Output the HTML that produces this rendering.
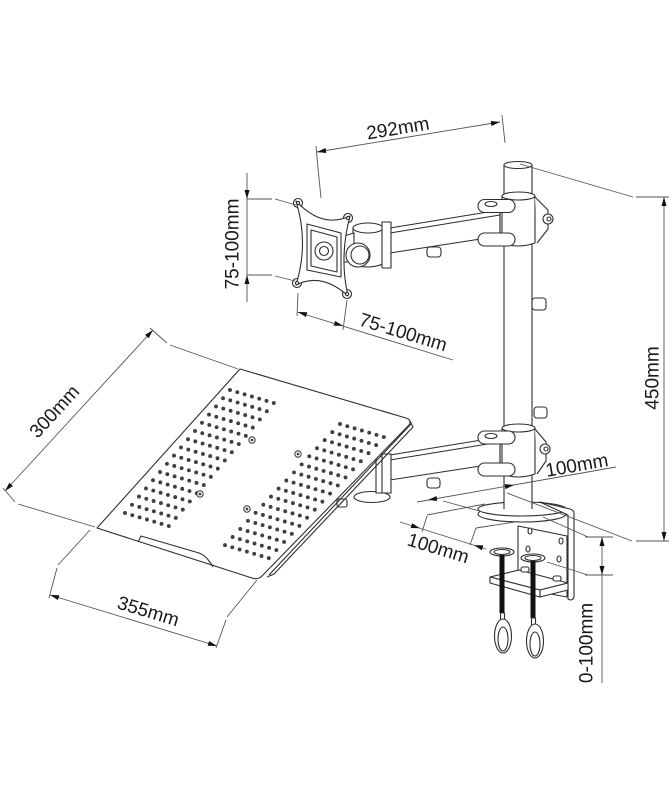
<!DOCTYPE html>
<html><head><meta charset="utf-8">
<style>
html,body{margin:0;padding:0;background:#fff;}
svg{display:block;}
text{font-family:"Liberation Sans",Arial,sans-serif;font-size:19px;fill:#1a1a1a;}
</style></head><body>
<svg width="669" height="801" viewBox="0 0 669 801" xmlns="http://www.w3.org/2000/svg">
<defs>
<g id="rowd" fill="#404040">
<circle cx="0" cy="0" r="1.95"/><circle cx="7.3" cy="2.17" r="1.95"/><circle cx="14.6" cy="4.34" r="1.95"/><circle cx="21.9" cy="6.51" r="1.95"/><circle cx="29.2" cy="8.68" r="1.95"/><circle cx="36.5" cy="10.85" r="1.95"/><circle cx="43.8" cy="13.02" r="1.95"/>
</g>
</defs>
<rect width="669" height="801" fill="#fff"/>

<g stroke="#2e2e2e" stroke-width="1.1" fill="#fff" stroke-linejoin="round">
<!-- base disk -->
<ellipse cx="522" cy="514" rx="44" ry="8"/>
<ellipse cx="522" cy="509" rx="44" ry="7"/>
<!-- L bracket -->
<path d="M540,502 L570,509 Q574,510 574,514 L574,596 Q574,600 570,600 L568,599 L568,515 Z"/>
<!-- back plate -->
<polygon points="518,526 567,536 567,597 518,588"/>
<ellipse cx="530" cy="531" rx="2" ry="3"/><ellipse cx="561" cy="541" rx="2" ry="3"/>
<ellipse cx="528" cy="549" rx="2" ry="3"/><ellipse cx="559" cy="559" rx="2" ry="3"/>
<!-- lower clamp plate -->
<polygon points="490,577 519,570 568,583 540,590"/>
<polygon points="490,577 540,590 540,597 490,583"/>
<polygon points="540,590 568,583 568,590 540,597"/>
<rect x="521" y="567" width="8" height="5" rx="2"/><rect x="553" y="576" width="8" height="5" rx="2"/>
<!-- screws -->
<ellipse cx="502" cy="552" rx="12" ry="4"/><ellipse cx="502" cy="552" rx="8" ry="2.5"/>
<rect x="499.5" y="555" width="5" height="58" fill="#111" stroke="none"/>
<rect x="500.5" y="613" width="4" height="7"/>
<ellipse cx="503" cy="636" rx="8.5" ry="17"/><ellipse cx="503" cy="639" rx="5" ry="12"/>
<ellipse cx="533" cy="558" rx="12" ry="4"/><ellipse cx="533" cy="558" rx="8" ry="2.5"/>
<rect x="530.5" y="561" width="5" height="57" fill="#111" stroke="none"/>
<rect x="531.5" y="618" width="4" height="7"/>
<ellipse cx="535" cy="641" rx="8.5" ry="17"/><ellipse cx="535" cy="644" rx="5" ry="12"/>

<!-- pole -->
<rect x="504" y="165" width="28" height="344" stroke="none"/>
<line x1="504" y1="165" x2="504" y2="509"/><line x1="532" y1="165" x2="532" y2="509"/>
<ellipse cx="518" cy="165" rx="14" ry="3.5"/>

<!-- upper arm -->
<polygon points="390,228 500,210 500,236 390,253"/>
<line x1="390" y1="233" x2="500" y2="215"/>
<rect x="427" y="247" width="14" height="10" rx="3"/>
<!-- upper collar -->
<path d="M502,196 L502,243 Q518,249 535,243 L535,196 Z"/>
<ellipse cx="518.5" cy="196" rx="16.5" ry="4"/>
<path d="M535,197 L548,210 L548,229 L537,243"/>
<circle cx="548" cy="219" r="5"/><circle cx="549" cy="219" r="2"/>
<rect x="478" y="199.5" width="37" height="13" rx="6.5"/>
<ellipse cx="491" cy="204" rx="6" ry="2.5"/>
<rect x="478" y="233" width="37" height="13" rx="6.5"/>
<line x1="500" y1="212" x2="500" y2="233"/>

<!-- plate joint -->
<path d="M353,228 L353,264 Q368,270 383,264 L383,228 Z"/>
<ellipse cx="368" cy="228" rx="15" ry="5"/>
<rect x="382" y="222" width="9" height="46"/>
<polygon points="344,236 354,233 354,262 344,262"/>
<circle cx="358" cy="255" r="12"/><circle cx="360" cy="255" r="9"/>
<!-- VESA plate -->
<circle cx="298" cy="203" r="4.5"/><circle cx="348" cy="218" r="4.5"/>
<circle cx="347" cy="294" r="4.5"/><circle cx="297" cy="283" r="4.5"/>
<path d="M296,201 Q322,229 350,216 Q339,257 348,296 Q322,272 296,285 Q309,243 296,201 Z"/>
<circle cx="298" cy="203" r="1.6"/><circle cx="348" cy="218" r="1.6"/>
<circle cx="347" cy="294" r="1.6"/><circle cx="297" cy="283" r="1.6"/>
<polygon points="307,224 341,233 341,277 307,270"/>
<polygon points="311,230 337,237 337,272 311,266"/>
<circle cx="324" cy="251" r="9"/><circle cx="324" cy="251" r="4.5"/>

<!-- pole knobs -->
<rect x="532" y="298" width="14" height="12" rx="3"/>
<rect x="534" y="407" width="13" height="11" rx="3"/>

<!-- lower arm -->
<polygon points="390,455 500,437 500,463 390,480"/>
<line x1="390" y1="460" x2="500" y2="442"/>
<rect x="427" y="478" width="13" height="10" rx="3"/>
<path d="M502,428 L502,474 Q518,480 535,474 L535,428 Z"/>
<ellipse cx="518.5" cy="428" rx="16.5" ry="4"/>
<path d="M535,429 L546,442 L546,461 L537,474"/>
<circle cx="545" cy="449" r="5"/><circle cx="546" cy="449" r="2"/>
<rect x="478" y="431" width="37" height="13" rx="6.5"/>
<ellipse cx="491" cy="436" rx="6" ry="2.5"/>
<rect x="478" y="463" width="37" height="13" rx="6.5"/>
<line x1="500" y1="444" x2="500" y2="463"/>
<!-- tray bracket -->
<ellipse cx="372" cy="497" rx="18" ry="5.5"/>
<rect x="376" y="454" width="15" height="39"/>
<line x1="382" y1="454" x2="382" y2="493"/>
<rect x="337" y="499" width="10" height="8" rx="2"/>

<!-- laptop tray -->
<path d="M240,369 L406,418 Q412,420 409,425 L262,576 Q258,580 252,578 L97,528 Z"/>
<path d="M410,421 L413,427 L274,574 L267,577" fill="none"/>
<line x1="411" y1="424" x2="269" y2="575"/>
<path d="M138,542 L141,536 L199,553 Q207,556 213,567" fill="none"/>
</g>

<!-- tray dots -->
<g>
<use href="#rowd" transform="translate(230,390)"/><use href="#rowd" transform="translate(223,398.2)"/>
<use href="#rowd" transform="translate(216,406.4)"/><use href="#rowd" transform="translate(209,414.6)"/>
<use href="#rowd" transform="translate(202,422.8)"/><use href="#rowd" transform="translate(195,431)"/>
<use href="#rowd" transform="translate(188,439.2)"/><use href="#rowd" transform="translate(181,447.4)"/>
<use href="#rowd" transform="translate(174,455.6)"/><use href="#rowd" transform="translate(167,463.8)"/>
<use href="#rowd" transform="translate(160,472)"/><use href="#rowd" transform="translate(153,480.2)"/>
<use href="#rowd" transform="translate(146,488.4)"/><use href="#rowd" transform="translate(139,496.6)"/>
<use href="#rowd" transform="translate(132,504.8)"/><use href="#rowd" transform="translate(125,513)"/>
<use href="#rowd" transform="translate(340,424)"/><use href="#rowd" transform="translate(332.3,432.1)"/>
<use href="#rowd" transform="translate(324.7,440.1)"/><use href="#rowd" transform="translate(317,448.2)"/>
<use href="#rowd" transform="translate(309.3,456.3)"/><use href="#rowd" transform="translate(301.7,464.4)"/>
<use href="#rowd" transform="translate(294,472.4)"/><use href="#rowd" transform="translate(286.3,480.5)"/>
<use href="#rowd" transform="translate(278.6,488.6)"/><use href="#rowd" transform="translate(271,496.6)"/>
<use href="#rowd" transform="translate(263.3,504.7)"/><use href="#rowd" transform="translate(255.6,512.8)"/>
<use href="#rowd" transform="translate(248,520.8)"/><use href="#rowd" transform="translate(240.3,528.9)"/>
<use href="#rowd" transform="translate(232.6,537)"/><use href="#rowd" transform="translate(225,545.1)"/>
</g>
<g stroke="#333" stroke-width="1" fill="#fff">
<circle cx="252" cy="440" r="3.2"/><circle cx="200" cy="494" r="3.2"/>
<circle cx="298" cy="454" r="3.2"/><circle cx="247" cy="509" r="3.2"/>
</g>
<g fill="#444">
<circle cx="252" cy="440" r="1.4"/><circle cx="200" cy="494" r="1.4"/>
<circle cx="298" cy="454" r="1.4"/><circle cx="247" cy="509" r="1.4"/>
</g>

<!-- dimension lines -->
<g stroke="#555" stroke-width="0.9" fill="none">
<line x1="317" y1="152" x2="500" y2="122"/>
<polyline points="321,198 318,168 316,146"/>
<line x1="505" y1="143" x2="502" y2="115"/>
<line x1="247" y1="173" x2="247" y2="302"/>
<line x1="247" y1="199" x2="272" y2="199"/><line x1="275" y1="199" x2="296" y2="205"/>
<line x1="247" y1="275" x2="272" y2="275"/><line x1="275" y1="276" x2="295" y2="281"/>
<line x1="297" y1="312" x2="453" y2="360"/>
<line x1="298" y1="293" x2="297" y2="316"/><line x1="347" y1="300" x2="343" y2="330"/>
<line x1="5" y1="491" x2="153" y2="330"/>
<line x1="150" y1="328" x2="167" y2="343"/><line x1="170" y1="345" x2="238" y2="369"/>
<line x1="3" y1="488" x2="15" y2="502"/><line x1="18" y1="504" x2="95" y2="527"/>
<line x1="50" y1="595" x2="217" y2="646"/>
<line x1="90" y1="530" x2="58" y2="565"/><line x1="57" y1="568" x2="49" y2="598"/>
<line x1="257" y1="580" x2="227" y2="617"/><line x1="226" y1="620" x2="216" y2="648"/>
<line x1="417" y1="502" x2="616" y2="467"/>
<line x1="443" y1="501" x2="483" y2="512"/>
<line x1="507" y1="493" x2="632" y2="541"/>
<line x1="520" y1="164" x2="633" y2="197"/>
<line x1="400" y1="522" x2="486" y2="549"/>
<line x1="422" y1="532" x2="427" y2="516"/><line x1="427" y1="515" x2="485" y2="504"/>
<line x1="470" y1="545" x2="476" y2="528"/><line x1="476" y1="528" x2="515" y2="522"/>
<line x1="664" y1="197" x2="664" y2="541"/>
<line x1="636" y1="197" x2="669" y2="197"/><line x1="636" y1="541" x2="669" y2="541"/>
<line x1="602" y1="537" x2="602" y2="683"/>
<line x1="585" y1="537" x2="613" y2="537"/><line x1="585" y1="575" x2="613" y2="575"/>
<line x1="543" y1="517" x2="588" y2="537"/><line x1="547" y1="562" x2="588" y2="575"/>
</g>

<!-- arrowheads -->
<g fill="#111">
<polygon points="500,122 491.5,126 490.7,121"/>
<polygon points="317,152 326.3,153 325.5,148"/>
<polygon points="247,199 244.5,190 249.5,190"/>
<polygon points="247,275 244.5,284 249.5,284"/>
<polygon points="298,312 305.9,317 307.3,312.2"/>
<polygon points="343,325.8 333.7,325.8 335.1,321"/>
<polygon points="153,330 148.7,338.3 145.1,334.9"/>
<polygon points="5,491 12.9,486.1 9.3,482.7"/>
<polygon points="217,646 207.7,645.8 209.1,641"/>
<polygon points="50,595 57.9,600 59.3,595.2"/>
<polygon points="428,500 437.3,500.9 436.5,496"/>
<polygon points="514,485 505.5,489.1 504.7,484.1"/>
<polygon points="420,528.3 410.6,528 412.2,523.2"/>
<polygon points="474,545.1 481.8,550.2 483.4,545.4"/>
<polygon points="664,197 661.5,206 666.5,206"/>
<polygon points="664,541 661.5,532 666.5,532"/>
<polygon points="602,537 599.5,546 604.5,546"/>
<polygon points="602,575 599.5,566 604.5,566"/>
</g>

<!-- labels -->
<text x="398" y="129" transform="rotate(-9.3 398 129)" text-anchor="middle" dominant-baseline="central">292mm</text>
<text x="233" y="244" transform="rotate(-90 233 244)" text-anchor="middle" dominant-baseline="central">75-100mm</text>
<text x="403" y="333" transform="rotate(17 403 333)" text-anchor="middle" dominant-baseline="central">75-100mm</text>
<text x="55" y="412" transform="rotate(-47.5 55 412)" text-anchor="middle" dominant-baseline="central">300mm</text>
<text x="148" y="612" transform="rotate(16.7 148 612)" text-anchor="middle" dominant-baseline="central">355mm</text>
<text x="577" y="466" transform="rotate(-10 577 466)" text-anchor="middle" dominant-baseline="central">100mm</text>
<text x="438" y="549" transform="rotate(17 438 549)" text-anchor="middle" dominant-baseline="central">100mm</text>
<text x="653" y="378" transform="rotate(-90 653 378)" text-anchor="middle" dominant-baseline="central">450mm</text>
<text x="587" y="643" transform="rotate(-90 587 643)" text-anchor="middle" dominant-baseline="central">0-100mm</text>
</svg>
</body></html>
